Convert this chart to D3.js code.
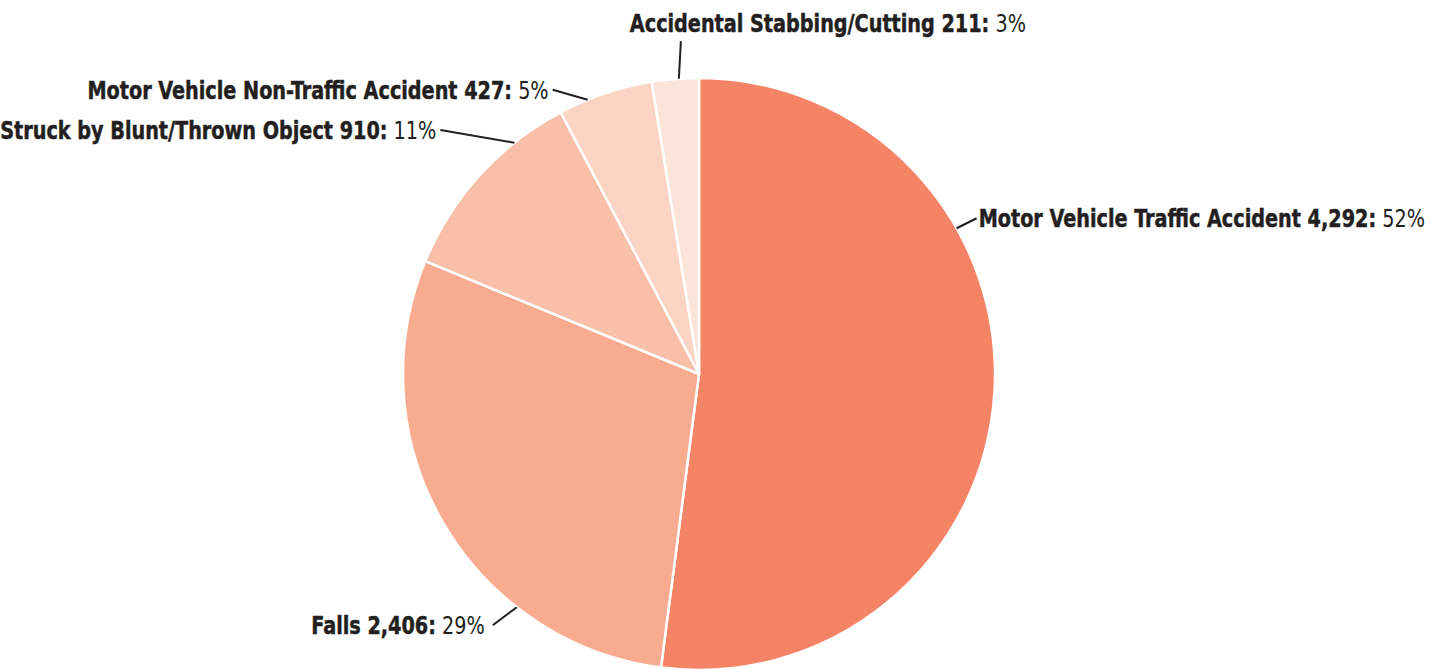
<!DOCTYPE html>
<html>
<head>
<meta charset="utf-8">
<style>
  body { margin: 0; background: #fff; }
  svg { display: block; }
  .lbl { font-family: "DejaVu Sans Condensed", "Liberation Sans Narrow", sans-serif; font-stretch: condensed; font-size: 25.3px; fill: #231f20; }
  .lbl .b { font-weight: bold; stroke: #231f20; stroke-width: 0.5; }
  .leader { stroke: #231f20; stroke-width: 2; fill: none; }
</style>
</head>
<body>
<script src="https://d3js.org/d3.v7.min.js"></script>
<script>

// data
var causes = ["Motor Vehicle Traffic Accident", "Falls", "Struck by Blunt/Thrown Object",
              "Motor Vehicle Non-Traffic Accident", "Accidental Stabbing/Cutting"];
var counts = [4292, 2406, 910, 427, 211];
var colors = ["#f58467", "#f8ab8f", "#f9bfa8", "#fbd4c3", "#fce4da"];

// where each leader line leaves the pie (degrees clockwise from top), and its offset
var labelAngle = [60.5, 218, 321.4, 337.9, 356.1];
var labelDx = [20, -24, -74, -35, 2];
var labelDy = [-10, 18, -12.6, -10, -37.6];
var labelAnchor = ["start", "end", "end", "end", "start"];

var width = 1442, height = 669;
var cx = 699, cy = 374, radius = 296;
var squeeze = 0.845; // narrow the font to look like a condensed face

var svg = d3.select("body").append("svg")
    .attr("width", width)
    .attr("height", height);

var g = svg.append("g").attr("transform", "translate(" + cx + "," + cy + ")");

var total = d3.sum(counts);
var rows = causes.map(function(c, i) { return {name: c, value: counts[i], i: i}; });

var pie = d3.pie().sort(null).value(function(d) { return d.value; });
var arc = d3.arc().innerRadius(0).outerRadius(radius);

g.selectAll("path.slice")
  .data(pie(rows))
  .enter()
  .append("path")
  .attr("class", "slice")
  .attr("d", arc)
  .attr("fill", function(d) { return colors[d.data.i]; })
  .attr("stroke", "#fff")
  .attr("stroke-width", 2.5)
  .attr("stroke-linejoin", "round");

var fmt = d3.format(",");

rows.forEach(function(d, i) {
  var a = labelAngle[i] * Math.PI / 180;
  var x0 = Math.sin(a) * radius, y0 = -Math.cos(a) * radius;
  var x1 = x0 + labelDx[i], y1 = y0 + labelDy[i];

  g.append("line")
    .attr("class", "leader")
    .attr("x1", x0).attr("y1", y0)
    .attr("x2", x1).attr("y2", y1);

  var tx, ty = y1, dy = "0.36em";
  if (i === 4) { tx = x1 - 51; ty = y1 - 9.3; dy = 0; }
  else if (labelAnchor[i] === "start") tx = x1 + 2;
  else if (i === 1) tx = x1 - 8;
  else tx = x1 - 4;

  var t = g.append("g")
    .attr("transform", "translate(" + tx + "," + ty + ") scale(" + squeeze + ",1)")
    .append("text")
    .attr("class", "lbl")
    .attr("dy", dy)
    .attr("text-anchor", labelAnchor[i]);
  t.append("tspan").attr("class", "b").text(d.name + " " + fmt(d.value) + ":");
  t.append("tspan").text(" " + Math.round(d.value / total * 100) + "%");
});

</script>
</body>
</html>
